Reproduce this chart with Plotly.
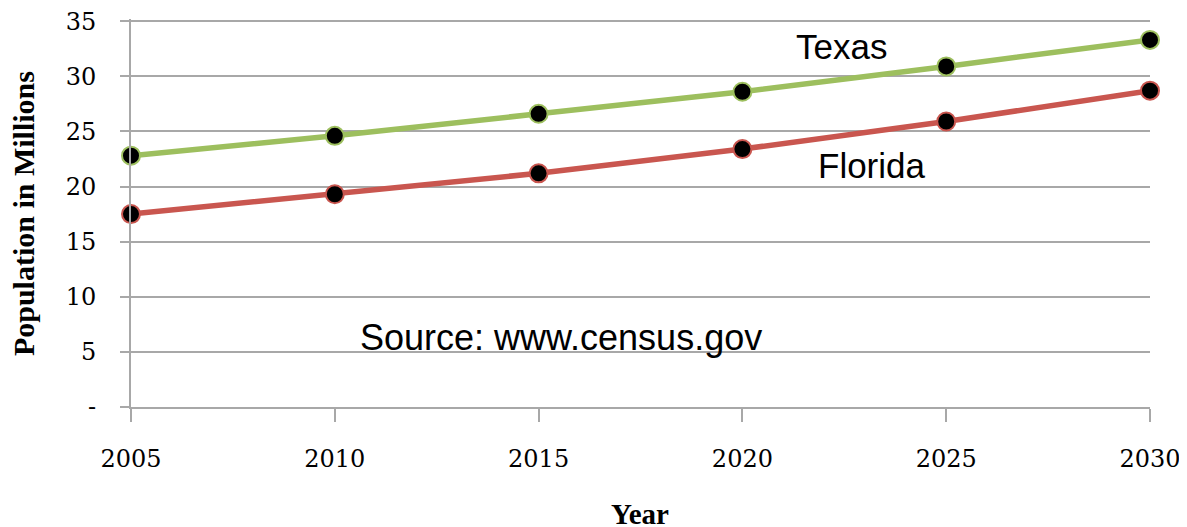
import plotly.graph_objects as go

years = [2005, 2010, 2015, 2020, 2025, 2030]
texas = [22.8, 24.6, 26.6, 28.6, 30.9, 33.3]
florida = [17.5, 19.3, 21.2, 23.4, 25.9, 28.7]
y_tickvals = [0, 5, 10, 15, 20, 25, 30, 35]
y_ticktext = ["-", "5", "10", "15", "20", "25", "30", "35"]
x_tickvals = years

GREEN = "#9DBF5E"
RED = "#C9564F"
GRID = "#A8A8A8"

fig = go.Figure()
for name, vals, col in [("Texas", texas, GREEN), ("Florida", florida, RED)]:
    fig.add_trace(go.Scatter(
        x=years, y=vals, name=name, mode="lines+markers",
        line=dict(color=col, width=5.5),
        marker=dict(color="black", size=18, line=dict(color=col, width=2)),
        cliponaxis=False, showlegend=False,
    ))

sans = "Liberation Sans, Arial, sans-serif"
serif_bold = "Liberation Serif, Times New Roman, serif"

fig.add_annotation(x=2022.44, y=32.7, text="Texas", showarrow=False,
                   xanchor="center", yanchor="middle",
                   font=dict(family=sans, size=35, color="black"))
fig.add_annotation(x=2023.18, y=21.9, text="Florida", showarrow=False,
                   xanchor="center", yanchor="middle",
                   font=dict(family=sans, size=35, color="black"))
fig.add_annotation(x=2015.55, y=6.3, text="Source: www.census.gov", showarrow=False,
                   xanchor="center", yanchor="middle",
                   font=dict(family=sans, size=36, color="black"))

fig.add_annotation(xref="paper", yref="paper", x=(640 - 131) / 1019, y=0,
                   yshift=-107, text="<b>Year</b>", showarrow=False,
                   xanchor="center", yanchor="middle",
                   font=dict(family=serif_bold, size=29, color="black"))
fig.add_annotation(xref="paper", yref="y", x=0, y=17.5, xshift=-108,
                   text="<b>Population in Millions</b>", textangle=-90,
                   showarrow=False, xanchor="center", yanchor="middle",
                   font=dict(family=serif_bold, size=30, color="black"))

tickfont = dict(family="DejaVu Serif, serif", size=24, color="black")

fig.update_xaxes(range=[2005, 2030], tickvals=x_tickvals, showgrid=False,
                 zeroline=False, showline=True, linecolor=GRID, linewidth=2,
                 ticks="outside", ticklen=13, tickwidth=2, tickcolor=GRID,
                 tickfont=tickfont, ticklabelstandoff=16, automargin=False,
                 ticklabeloverflow="allow")
fig.update_yaxes(range=[0, 35.2], tickvals=y_tickvals, ticktext=y_ticktext,
                 showgrid=True, gridcolor=GRID, gridwidth=2, zeroline=False,
                 showline=True, linecolor=GRID, linewidth=2,
                 ticks="outside", ticklen=9, tickwidth=2, tickcolor=GRID,
                 tickfont=tickfont, ticklabelstandoff=19, automargin=False,
                 ticklabeloverflow="allow")

# page body has an 8px margin, so the plot area is offset to compensate
fig.update_layout(width=1187, height=527,
                  margin=dict(l=123, r=45, t=10.8, b=128, autoexpand=False),
                  plot_bgcolor="white", paper_bgcolor="white")

fig.write_html("out.html")
